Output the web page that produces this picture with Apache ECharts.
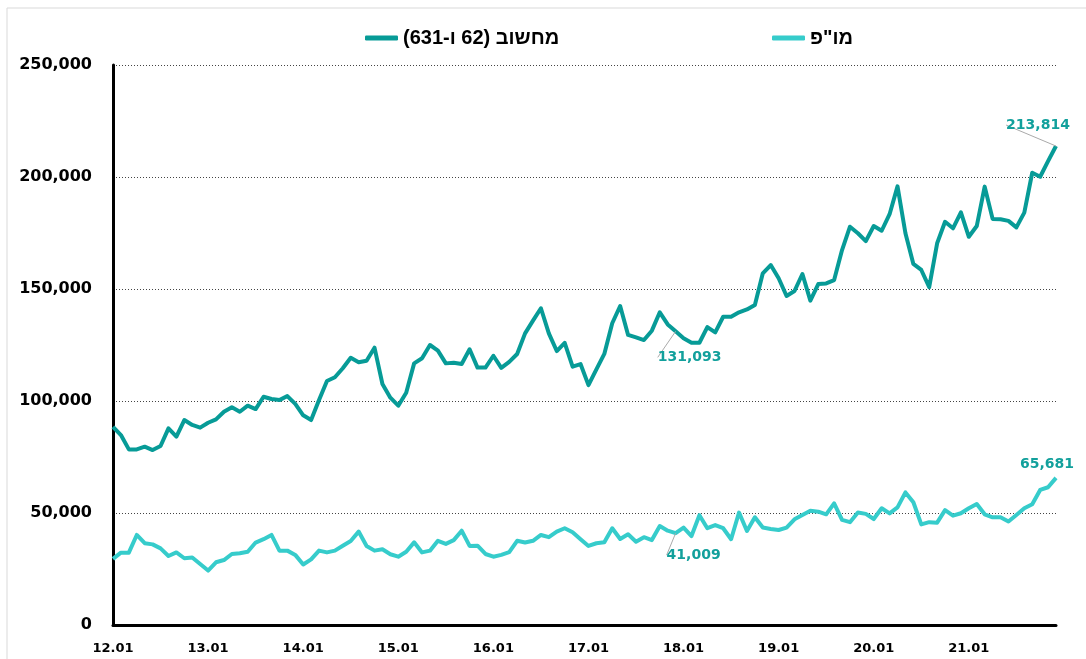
<!DOCTYPE html>
<html>
<head>
    <meta charset="utf-8" />
    <title>מחשוב ומו"פ</title>
    <script type="text/javascript" src="https://cdn.jsdelivr.net/npm/echarts@6/dist/echarts.min.js"></script>
    <style>
        html, body {
            margin: 0;
            height: 100%;
            background: #fff;
        }
    </style>
</head>
<body>
    <div id="main" style="width: 1086px;height: 659px;"></div>
    <script type="text/javascript">
        // month labels yy.mm, Jan 2012 - Dec 2021
        var months = [];
        for (var y = 12; y <= 21; y++) {
            for (var m = 1; m <= 12; m++) {
                months.push(y + '.' + (m < 10 ? '0' + m : m));
            }
        }

        var seriesNames = ['מחשוב (62 ו-631)', 'מו"פ'];

        // מחשוב
        var computing = [
            88500, 84800, 78400, 78400, 79600, 78100, 79900, 87800, 84100, 91500, 89300, 88100,
            90300, 91800, 95200, 97200, 95200, 97900, 96400, 101900, 100900, 100400, 102200, 98700,
            93600, 91500, 100400, 108900, 110600, 114600, 119300, 117300, 118000, 123800, 107600, 101500,
            97900, 103700, 116800, 119100, 125000, 122500, 116800, 117100, 116500, 123100, 114900, 114900,
            120200, 114800, 117500, 121000, 130200, 135900, 141400, 130200, 122300, 126000, 115300, 116500,
            107100, 114100, 121000, 134700, 142400, 129500, 128400, 127200, 131400, 139600, 134200, 131093,
            128000, 126000, 126000, 133000, 130600, 137600, 137600, 139600, 140900, 142900, 157000, 160700,
            154800, 146900, 149100, 156700, 144800, 152200, 152500, 154000, 167400, 177800, 174900, 171400,
            178100, 176000, 183400, 195800, 174900, 161200, 158500, 150800, 170400, 180000, 177100, 184200,
            173300, 178100, 195700, 181300, 181100, 180400, 177500, 184100, 201900, 200100, 207100, 213814
        ];

        // מו"פ
        var research = [
            29500, 32300, 32300, 40200, 36500, 36000, 34200, 30800, 32400, 29800, 30100, 27200,
            24300, 28000, 29000, 31700, 32000, 32700, 36800, 38300, 40200, 33200, 33200, 31300,
            27000, 29300, 33200, 32400, 33200, 35400, 37500, 41700, 35300, 33200, 33800, 31600,
            30500, 32700, 36900, 32400, 33200, 37600, 36200, 37900, 42100, 35300, 35400, 31700,
            30500, 31300, 32500, 37600, 36800, 37600, 40200, 39200, 41700, 43200, 41400, 38300,
            35300, 36500, 36900, 43200, 38400, 40500, 37200, 39200, 37900, 44200, 42100, 41009,
            43500, 39700, 49000, 43200, 44600, 43200, 38300, 50200, 42000, 48100, 43500, 42900,
            42400, 43500, 47200, 49100, 51000, 50600, 49400, 54300, 46900, 45900, 50200, 49600,
            47300, 52100, 49800, 52500, 59200, 54800, 44900, 45900, 45700, 51300, 48800, 49900,
            52100, 54000, 49400, 48100, 48100, 46200, 49100, 52100, 53900, 60300, 61500, 65681
        ];

        // points that carry a value label
        var labelled = [71, 119];

        var darkColor = '#079b97';
        var lightColor = '#36cccb';

        function fmt(v) {
            return Number(v).toLocaleString('en-US');
        }

        function withLabels(arr, noGuideAt) {
            return arr.map(function (v, i) {
                if (labelled.indexOf(i) >= 0) {
                    var item = { value: v, label: { show: true } };
                    if (i === noGuideAt) item.labelLine = { show: false };
                    return item;
                }
                return v;
            });
        }

        var labelStyle = {
            show: false,
            position: 'inside',
            formatter: function (p) { return fmt(p.value); },
            color: '#12a09c',
            fontFamily: 'DejaVu Sans',
            fontWeight: 'bold',
            fontSize: 14
        };

        var legendText = {
            fontFamily: 'Liberation Sans',
            fontWeight: 'bold',
            fontSize: 20,
            color: '#000'
        };

        function rtl(name) {
            return '\u202B' + name + '\u202C';
        }

        var myChart = echarts.init(document.getElementById('main'));

        var option = {
            animation: false,
            backgroundColor: '#fff',
            graphic: [{
                type: 'rect',
                shape: { x: 7, y: 8, width: 1100, height: 700 },
                style: { fill: 'none', stroke: '#d9d9d9', lineWidth: 1 },
                silent: true
            }],
            legend: [
                {
                    top: 23, left: 360,
                    itemWidth: 33, itemHeight: 5, icon: 'roundRect',
                    textStyle: legendText, formatter: rtl,
                    data: [seriesNames[0]]
                },
                {
                    top: 23, left: 767,
                    itemWidth: 33, itemHeight: 5, icon: 'roundRect',
                    textStyle: legendText, formatter: rtl,
                    data: [seriesNames[1]]
                }
            ],
            grid: {
                left: 113,
                right: 30,
                top: 65,
                bottom: 34
            },
            xAxis: {
                type: 'category',
                data: months,
                boundaryGap: false,
                axisLine: { lineStyle: { color: '#000', width: 3 } },
                axisTick: { show: false },
                axisLabel: {
                    interval: 11,
                    margin: 17,
                    color: '#000',
                    fontFamily: 'DejaVu Sans',
                    fontWeight: 'bold',
                    fontSize: 13
                },
                splitLine: { show: false }
            },
            yAxis: {
                type: 'value',
                min: 0,
                max: 250000,
                interval: 50000,
                axisLine: { show: true, lineStyle: { color: '#000', width: 3 } },
                axisTick: { show: false },
                axisLabel: {
                    margin: 21,
                    color: '#000',
                    fontFamily: 'DejaVu Sans',
                    fontWeight: 'bold',
                    fontSize: 16,
                    formatter: function (v) { return fmt(v); }
                },
                splitLine: {
                    lineStyle: { color: '#444', type: [1, 2], width: 1 }
                }
            },
            series: [
                {
                    name: seriesNames[0],
                    type: 'line',
                    data: withLabels(computing, -1),
                    showSymbol: true,
                    showAllSymbol: true,
                    symbol: 'circle',
                    symbolSize: 0,
                    color: darkColor,
                    lineStyle: { width: 4, color: darkColor, join: 'round' },
                    label: labelStyle,
                    labelLine: { show: true, lineStyle: { color: '#aaa', width: 1 } },
                    labelLayout: function (p) {
                        if (p.dataIndex === 71) return { dx: 14, dy: 26 };
                        return { dx: -18, dy: -21 };
                    },
                    z: 3
                },
                {
                    name: seriesNames[1],
                    type: 'line',
                    data: withLabels(research, 119),
                    showSymbol: true,
                    showAllSymbol: true,
                    symbol: 'circle',
                    symbolSize: 0,
                    color: lightColor,
                    lineStyle: { width: 4, color: lightColor, join: 'round' },
                    label: labelStyle,
                    labelLine: { show: true, lineStyle: { color: '#aaa', width: 1 } },
                    labelLayout: function (p) {
                        if (p.dataIndex === 71) return { dx: 18, dy: 22 };
                        return { dx: -9, dy: -14 };
                    },
                    z: 2
                }
            ]
        };

        myChart.setOption(option);
    </script>
</body>
</html>
